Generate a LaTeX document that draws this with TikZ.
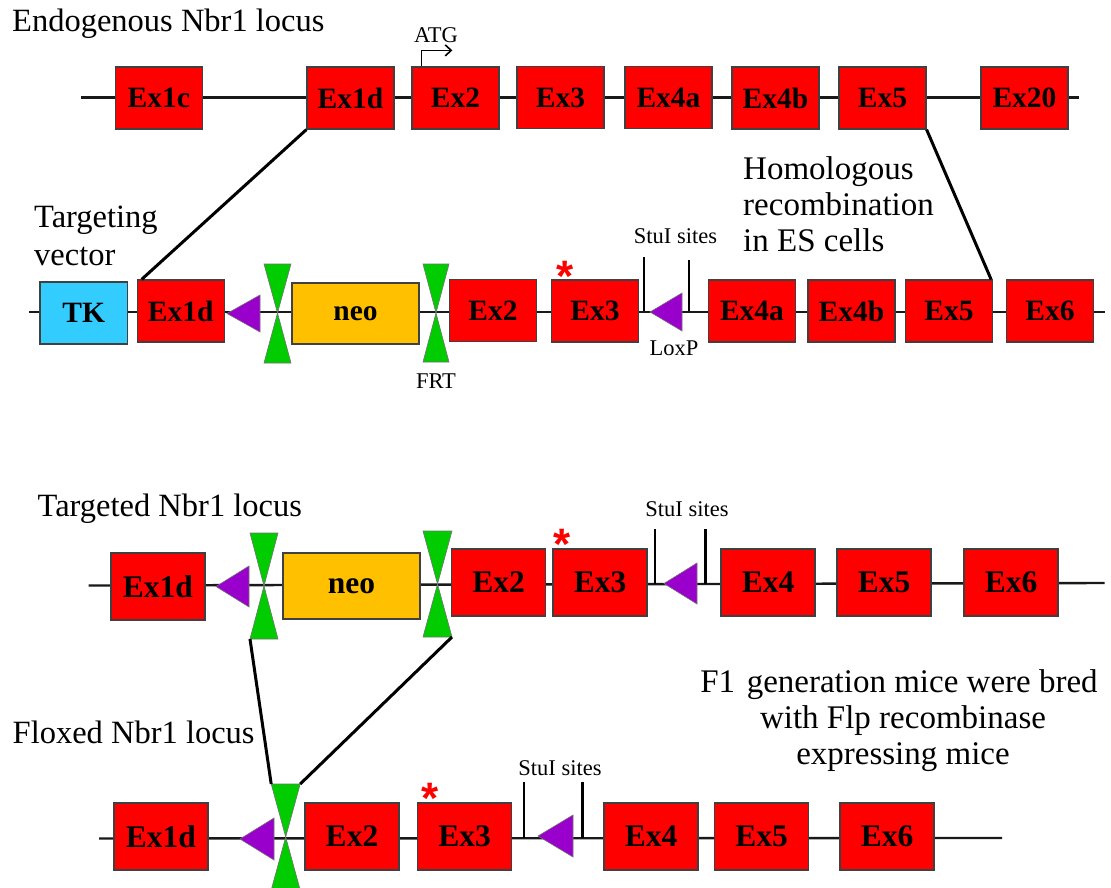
\documentclass[tikz,border=0pt]{standalone}
\usepackage{fontspec}
\setmainfont{Liberation Serif}
\newfontfamily\starfont{Liberation Sans}
\usetikzlibrary{arrows.meta,calc}

\definecolor{exonred}{RGB}{255,0,0}
\definecolor{tkblue}{RGB}{51,204,255}
\definecolor{neoorange}{RGB}{255,192,0}
\definecolor{frtgreen}{RGB}{0,204,0}
\definecolor{loxpurple}{RGB}{153,0,204}

% FRT site: name, centre x, centre y, half width, top y, bottom y
\newcommand\frtsite[6]{%
  \coordinate (#1) at (#2,#3);
  \coordinate (#1-tl) at (#2-#4,#5);
  \coordinate (#1-tr) at (#2+#4,#5);
  \coordinate (#1-bl) at (#2-#4,#6);
  \coordinate (#1-br) at (#2+#4,#6);
  \draw[frtshape] (#1-tl) -- (#1-tr) -- (#1) -- cycle;
  \draw[frtshape] (#1-bl) -- (#1-br) -- (#1) -- cycle;
}
% LoxP site: name, tip x, centre y, base x, half height
\newcommand\loxpsite[5]{%
  \coordinate (#1) at (#2,#3);
  \draw[loxpshape] (#1) -- (#4,#3-#5) -- (#4,#3+#5) -- cycle;
}
% StuI site tick: name, x, top y, bottom y
\newcommand\stuisite[4]{%
  \coordinate (#1-top) at (#2,#3);
  \coordinate (#1-bot) at (#2,#4);
  \draw[tick] (#1-top) -- (#1-bot);
}

\begin{document}
\begin{tikzpicture}[x=1pt,y=-1pt,
  backbone/.style={line width=2.4pt, black!90},
  link/.style={line width=3pt, black},
  tick/.style={line width=2.4pt, black},
  box/.style={draw=black!75, line width=1.2pt, inner sep=0pt,
    font=\bfseries\fontsize{29.5}{29.5}\selectfont},
  exA/.style={box, fill=exonred, minimum width=87pt, minimum height=62pt},
  exB/.style={box, fill=exonred, minimum width=94pt, minimum height=67pt,
    font=\bfseries\fontsize{31.5}{31.5}\selectfont},
  frtshape/.style={fill=frtgreen, draw=black!55, line width=0.6pt},
  loxpshape/.style={fill=loxpurple, draw=black!55, line width=0.6pt},
  title/.style={font=\fontsize{32.5}{36}\selectfont, anchor=base west, inner sep=0pt},
  note/.style={font=\fontsize{33}{36}\selectfont, inner sep=0pt},
  small/.style={font=\fontsize{22.5}{22.5}\selectfont, anchor=base, inner sep=0pt},
  star/.style={text=exonred, font=\starfont\bfseries\fontsize{44}{44}\selectfont,
    anchor=base, inner sep=0pt},
]
\useasboundingbox (0,0) rectangle (1111,888);
\fill[white] (0,0) rectangle (1111,888);

%% ---------------- Endogenous locus ----------------
\node[title] (title1) at (12,32) {Endogenous Nbr1 locus};
\coordinate (e-l) at (81,97.5);
\coordinate (e-r) at (1079,97.5);
\draw[backbone] (e-l) -- (e-r);
\node[exA] (e-ex1c) at (158.75,98) {Ex1c};
\node[exA] (e-ex1d) at (350.5,98) {Ex1d};
\node[exA] (e-ex2)  at (455.5,98) {Ex2};
\node[exA] (e-ex3)  at (560.5,97.5) {Ex3};
\node[exA] (e-ex4a) at (668.5,97.5) {Ex4a};
\node[exA] (e-ex4b) at (775.5,98) {Ex4b};
\node[exA] (e-ex5)  at (882.5,98) {Ex5};
\node[exA] (e-ex20) at (1024.5,98) {Ex20};
\node[small] (atg) at (436,42.5) {ATG};
\draw[line width=1.6pt, -{Straight Barb[length=6pt,width=11pt,line width=1.6pt]}]
  ($(e-ex2.north west)+(10,0)$) -- ++(0,-16) -- ++(31,0);

%% ---------------- Targeting vector ----------------
\node[title] (tv1) at (34,227) {Targeting};
\node[title] (tv2) at (34,265) {vector};
\node[note, anchor=base west] (hr1) at (743,179.3) {Homologous};
\node[note, anchor=base west] (hr2) at (743,215.5) {recombination};
\node[note, anchor=base west] (hr3) at (743,251.7) {in ES cells};

\coordinate (v-l) at (29,312);
\coordinate (v-r) at (1105,312);
\draw[backbone] (v-l) -- (v-r);
\node[box, fill=tkblue, minimum width=87.5pt, minimum height=62pt] (v-tk) at (83.75,313) {TK};
\node[exA] (v-ex1d) at (180.75,311) {Ex1d};
\loxpsite{v-lox1}{227}{313.5}{260}{18.5}
\frtsite{v-frt1}{277.5}{313}{13.5}{264}{363}
\node[box, fill=neoorange, minimum width=127pt, minimum height=61pt] (v-neo) at (355.5,313.5) {neo};
\frtsite{v-frt2}{436}{313}{13}{264}{362}
\node[exA] (v-ex2)  at (493,310.5) {Ex2};
\node[exA] (v-ex3)  at (595,311) {Ex3};
\node[star] (v-star) at (565,291) {*};
\stuisite{v-stu1}{644}{257}{311}
\stuisite{v-stu2}{689}{260}{311}
\loxpsite{v-lox2}{650}{312}{682}{19}
\node[small] (v-stulabel) at (675.5,243) {StuI sites};
\node[small] (v-loxlabel) at (674,355) {LoxP};
\node[small] (v-frtlabel) at (436,388) {FRT};
\node[exA] (v-ex4a) at (752,311) {Ex4a};
\node[exA] (v-ex4b) at (851.5,311) {Ex4b};
\node[exA] (v-ex5)  at (949,311) {Ex5};
\node[exA] (v-ex6)  at (1050,311) {Ex6};

% homologous arms
\draw[link] (e-ex1d.south west) -- ($(v-ex1d.north west)+(5,0)$);
\draw[link] (e-ex5.south east) -- ($(v-ex5.north east)+(-2,0)$);

%% ---------------- Targeted locus ----------------
\node[title] (title3) at (37.5,516) {Targeted Nbr1 locus};
\coordinate (t-l) at (88.6,585.5);
\coordinate (t-r) at (1104.5,583);
\draw[backbone] (t-l) -- (t-r);
\node[exB] (t-ex1d) at (158,586.5) {Ex1d};
\loxpsite{t-lox1}{216}{586.5}{249}{20.5}
\frtsite{t-frt1}{264}{586}{14}{533}{639}
\node[box, fill=neoorange, minimum width=137pt, minimum height=66pt,
  font=\bfseries\fontsize{31.5}{31.5}\selectfont] (t-neo) at (351.5,586) {neo};
\frtsite{t-frt2}{437.5}{584}{14.5}{531}{637}
\node[exB] (t-ex2) at (498.5,582.5) {Ex2};
\node[exB] (t-ex3) at (600,582.5) {Ex3};
\node[star] (t-star) at (562.5,559) {*};
\stuisite{t-stu1}{655}{529}{584}
\stuisite{t-stu2}{705.5}{529}{584}
\loxpsite{t-lox2}{664}{583.5}{697}{20.5}
\node[small] (t-stulabel) at (687,516.5) {StuI sites};
\node[exB] (t-ex4) at (768,582.5) {Ex4};
\node[exB] (t-ex5) at (884,582.5) {Ex5};
\node[exB] (t-ex6) at (1011,582.5) {Ex6};

%% ---------------- Floxed locus ----------------
\node[title] (title4) at (12.5,743) {Floxed Nbr1 locus};
\node[note, anchor=base] (f1a) at (899,692) {F1\hspace{0.1em} generation mice were bred};
\node[note, anchor=base] (f1b) at (903,728) {with Flp recombinase};
\node[note, anchor=base] (f1c) at (903,764) {expressing mice};

\coordinate (f-l) at (99,838.5);
\coordinate (f-r) at (1002,838);
\draw[backbone] (f-l) -- (f-r);
\node[exB] (f-ex1d) at (161,836.5) {Ex1d};
\loxpsite{f-lox1}{240}{839}{274}{21}
\frtsite{f-frt}{285.7}{837}{14.5}{784}{890}
\node[exB] (f-ex2) at (352,836.5) {Ex2};
\node[exB] (f-ex3) at (464.5,836.5) {Ex3};
\node[star] (f-star) at (430,813) {*};
\stuisite{f-stu1}{524}{782}{838}
\stuisite{f-stu2}{582.5}{782}{838}
\loxpsite{f-lox2}{538}{836}{573}{21}
\node[small] (f-stulabel) at (560,775) {StuI sites};
\node[exB] (f-ex4) at (651,836.5) {Ex4};
\node[exB] (f-ex5) at (761.5,836.5) {Ex5};
\node[exB] (f-ex6) at (887,836.5) {Ex6};

% Flp excision of the neo cassette
\draw[link] (t-frt1-bl) -- (f-frt-tl);
\draw[link] (t-frt2-br) -- (f-frt-tr);
\end{tikzpicture}
\end{document}
